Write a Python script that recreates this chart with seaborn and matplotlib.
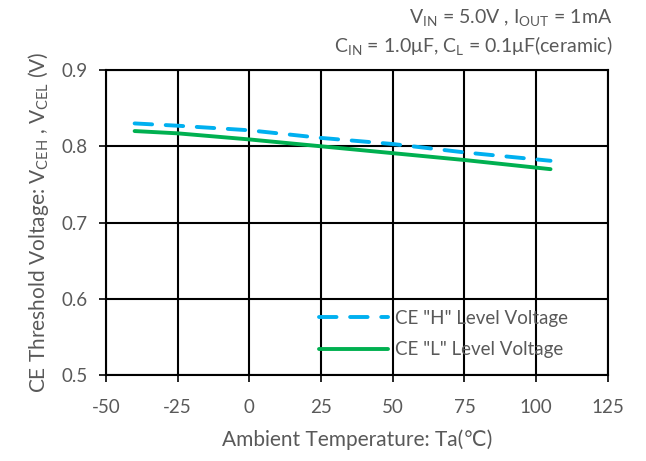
import matplotlib
matplotlib.use("Agg")
import matplotlib.pyplot as plt
import seaborn as sns
import pandas as pd

temps = [-40, -25, 0, 25, 50, 75, 105]
v_ceh = [0.830, 0.827, 0.821, 0.811, 0.803, 0.792, 0.781]
v_cel = [0.820, 0.817, 0.809, 0.800, 0.791, 0.782, 0.770]
labels = ['CE "H" Level Voltage', 'CE "L" Level Voltage']
x_ticks = [-50, -25, 0, 25, 50, 75, 100, 125]
y_ticks = [0.5, 0.6, 0.7, 0.8, 0.9]

sns.set_theme(style="white")
plt.rcParams['font.family'] = ['Lato', 'DejaVu Sans']
plt.rcParams['mathtext.default'] = 'regular'
plt.rcParams['axes.unicode_minus'] = False
txt = '#595959'

fig = plt.figure(figsize=(6.46, 4.61), dpi=100)
ax = fig.add_axes([0.164, 0.1866, 0.777, 0.6614])

df = pd.DataFrame({'T': temps * 2, 'V': v_ceh + v_cel,
                   'S': [labels[0]] * len(temps) + [labels[1]] * len(temps)})
sns.lineplot(data=df, x='T', y='V', hue='S', style='S',
             palette={labels[0]: '#00B0F0', labels[1]: '#00B050'},
             dashes={labels[0]: (4.5, 3.5), labels[1]: ''},
             linewidth=2.8, ax=ax)
for l in ax.lines:
    l.set_dash_capstyle('round')

ax.set_xlim(-50, 125)
ax.set_ylim(0.5, 0.9)
ax.set_xticks(x_ticks)
ax.set_yticks(y_ticks)
ax.set_yticklabels([f'{v:.1f}' for v in y_ticks])
ax.grid(True, color='black', linewidth=1.5)
for s in ax.spines.values():
    s.set_color('black')
    s.set_linewidth(1.5)
ax.tick_params(axis='both', colors=txt, labelsize=13.5, length=5, width=1.2,
               direction='out', bottom=True, left=True)
ax.tick_params(axis='x', pad=12)
ax.tick_params(axis='y', pad=8)
ax.tick_params(axis='both', color='black')
ax.set_xlabel('Ambient Temperature: Ta(℃)', fontsize=15, color=txt, labelpad=10)
ax.set_ylabel('CE Threshold Voltage: V$_{CEH}$ , V$_{CEL}$ (V)', fontsize=15,
              color=txt, labelpad=8)

leg = ax.legend(loc='lower right', bbox_to_anchor=(0.955, 0.0), frameon=False,
                fontsize=13.5, handlelength=3.7, handletextpad=0.4,
                labelspacing=0.75)
for t in leg.get_texts():
    t.set_color(txt)

fig.text(0.948, 0.962, 'V$_{IN}$ = 5.0V , I$_{OUT}$ = 1mA', ha='right', va='center',
         fontsize=14, color=txt)
fig.text(0.948, 0.902, 'C$_{IN}$ = 1.0μF, C$_{L}$ = 0.1μF(ceramic)', ha='right',
         va='center', fontsize=14, color=txt)

fig.savefig('out.png', dpi=100)
